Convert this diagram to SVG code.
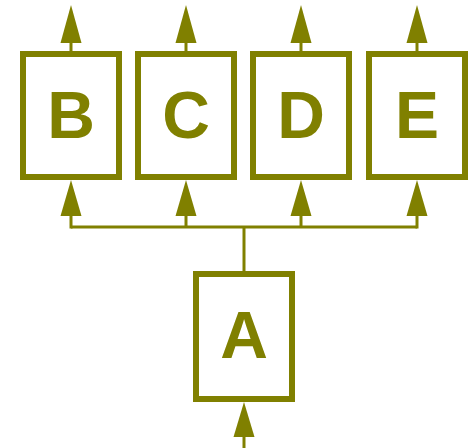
<svg xmlns="http://www.w3.org/2000/svg" width="474" height="448" viewBox="0 0 474 448">
  <defs>
    <style>
      .box { fill: #ffffff; stroke: #808000; stroke-width: 6; }
      .lbl { font-family: "Liberation Sans", Arial, sans-serif; font-weight: bold; font-size: 66px; fill: #808000; text-anchor: middle; }
      .wire { fill: none; stroke: #808000; stroke-width: 3; }
      .head { fill: #808000; stroke: none; }
    </style>
  </defs>
  <rect width="474" height="448" fill="#ffffff"/>

  <g id="connectors">
    <!-- input into A -->
    <line class="wire" x1="244" y1="448" x2="244" y2="436"/>
    <polygon class="head" points="233.5,437 254.5,437 244,402"/>
    <!-- A to bus -->
    <line class="wire" x1="244" y1="271" x2="244" y2="227"/>
    <!-- bus -->
    <line class="wire" x1="71" y1="227" x2="417" y2="227"/>
    <line class="wire" x1="71" y1="228.5" x2="71" y2="214"/>
    <line class="wire" x1="186" y1="227" x2="186" y2="214"/>
    <line class="wire" x1="301" y1="227" x2="301" y2="214"/>
    <line class="wire" x1="417" y1="228.5" x2="417" y2="214"/>
    <polygon class="head" points="60.5,216 81.5,216 71,180"/>
    <polygon class="head" points="175.5,216 196.5,216 186,180"/>
    <polygon class="head" points="290.5,216 311.5,216 301,180"/>
    <polygon class="head" points="406.5,216 427.5,216 417,180"/>
    <!-- outputs -->
    <line class="wire" x1="71" y1="51" x2="71" y2="42"/>
    <line class="wire" x1="186" y1="51" x2="186" y2="42"/>
    <line class="wire" x1="301" y1="51" x2="301" y2="42"/>
    <line class="wire" x1="417" y1="51" x2="417" y2="42"/>
    <polygon class="head" points="60.5,43 81.5,43 71,5"/>
    <polygon class="head" points="175.5,43 196.5,43 186,5"/>
    <polygon class="head" points="290.5,43 311.5,43 301,5"/>
    <polygon class="head" points="406.5,43 427.5,43 417,5"/>
  </g>

  <g id="node-B">
    <rect class="box" x="23" y="54" width="96" height="123"/>
    <text class="lbl" x="71" y="138">B</text>
  </g>
  <g id="node-C">
    <rect class="box" x="138" y="54" width="96" height="123"/>
    <text class="lbl" x="186" y="138">C</text>
  </g>
  <g id="node-D">
    <rect class="box" x="253" y="54" width="96" height="123"/>
    <text class="lbl" x="301" y="138">D</text>
  </g>
  <g id="node-E">
    <rect class="box" x="369" y="54" width="96" height="123"/>
    <text class="lbl" x="417" y="138">E</text>
  </g>
  <g id="node-A">
    <rect class="box" x="196" y="274" width="96" height="125"/>
    <text class="lbl" x="244" y="358">A</text>
  </g>
</svg>
